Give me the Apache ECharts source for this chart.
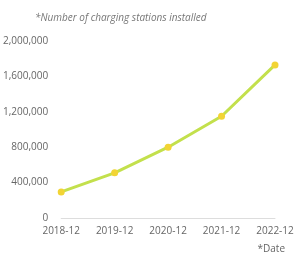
<!DOCTYPE html>
<html><head><meta charset="utf-8">
<script src="https://cdn.jsdelivr.net/npm/echarts@6/dist/echarts.min.js"></script>
<style>html,body{margin:0;padding:0;background:#fff}#c{width:300px;height:256px}</style>
</head><body><div id="c"></div>
<script>
const categories = ['2018-12','2019-12','2020-12','2021-12','2022-12'];
const stations = [295000, 510000, 800000, 1150000, 1730000];
const yTicks = [0, 400000, 800000, 1200000, 1600000, 2000000];

const chart = echarts.init(document.getElementById('c'));
chart.setOption({
  animation: false,
  textStyle: {fontFamily: 'Open Sans'},
  title: [
    {text: '*Number of charging stations installed', left: 30, top: 8,
     textStyle: {fontSize: 10, fontStyle: 'italic', fontWeight: 'normal', color: '#777', fontFamily: 'Open Sans'}},
    {text: '*Date', right: 10, top: 239,
     textStyle: {fontSize: 10, fontWeight: 'normal', color: '#666', fontFamily: 'Open Sans'}}
  ],
  grid: {left: 60, right: 25, top: 41, bottom: 38},
  xAxis: {
    type: 'category', data: categories, boundaryGap: false,
    axisLine: {lineStyle: {color: '#dddddd'}},
    axisTick: {show: false},
    axisLabel: {color: '#666', fontSize: 10, margin: 8, interval: 0, hideOverlap: false}
  },
  yAxis: {
    type: 'value', min: yTicks[0], max: yTicks[yTicks.length-1], interval: 400000,
    splitLine: {show: false}, axisLine: {show: false}, axisTick: {show: false},
    axisLabel: {color: '#666', fontSize: 10, margin: 13,
      formatter: v => v.toLocaleString('en-US')}
  },
  series: [{
    type: 'line', data: stations,
    lineStyle: {color: '#c3e04c', width: 3},
    symbol: 'circle', symbolSize: 7,
    itemStyle: {color: '#f2d434', borderWidth: 0}
  }]
});
</script></body></html>
